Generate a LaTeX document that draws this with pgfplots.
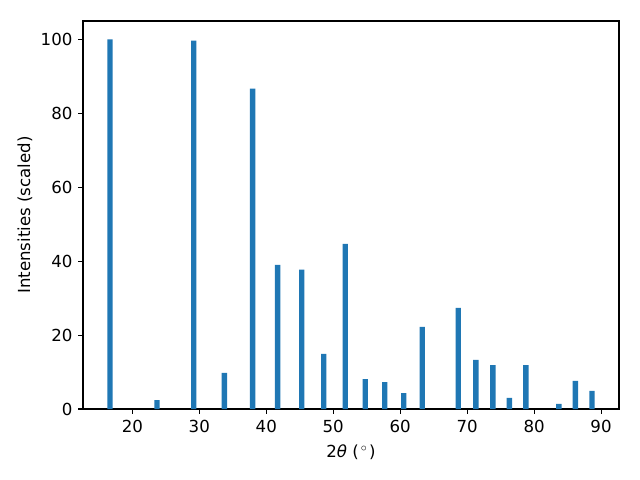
\documentclass[border=0pt]{standalone}
\usepackage{pgfplots}
\pgfplotsset{compat=1.18}
\usepackage{fontspec}
\setmainfont{DejaVu Sans}
\definecolor{mplblue}{HTML}{1F77B4}
\pgfplotstableread{
x y
16.67 100.0
23.69 2.4
29.18 99.7
33.75 9.8
37.97 86.7
41.70 39.0
45.29 37.7
48.58 14.9
51.80 44.7
54.78 8.1
57.70 7.3
60.54 4.3
63.30 22.2
68.68 27.4
71.30 13.3
73.84 11.9
76.31 3.0
78.77 11.9
83.70 1.4
86.17 7.6
88.64 4.9
}\datatable
\begin{document}
\fontsize{16.67}{20}\selectfont
\begin{tikzpicture}
\begin{axis}[
  at={(0,0)}, anchor=south west,
  scale only axis,
  width=536bp, height=388bp,
  xmin=12.63, xmax=92.68,
  ymin=0, ymax=105,
  xtick={20,30,...,90},
  ytick={0,20,...,100},
  tick align=outside,
  tick pos=left,
  major tick length=4.86bp,
  every tick/.style={black, line width=1.1bp},
  axis line style={line width=1.1bp},
  /pgf/number format/assume math mode=true,
  ticklabel style={font=\fontsize{16.67}{20}\selectfont},
  label style={font=\fontsize{16.67}{20}\selectfont},
  xticklabel style={yshift=-1bp},
  xlabel={2{\itshape θ} (\kern2bp\textsuperscript{$\circ$}\kern2bp)},
  ylabel={Intensities (scaled)},
  xlabel style={at={(axis description cs:0.5,0)}, anchor=north, yshift=-30bp},
  ylabel style={at={(axis description cs:0,0.5)}, anchor=south, yshift=45bp},
]
\addplot[ybar, bar width=0.8, bar shift=0pt, fill=mplblue, draw=none] table[x=x,y=y]{\datatable};
\end{axis}
\path (-83bp,-71bp) rectangle (557bp,409bp);
\end{tikzpicture}
\end{document}
